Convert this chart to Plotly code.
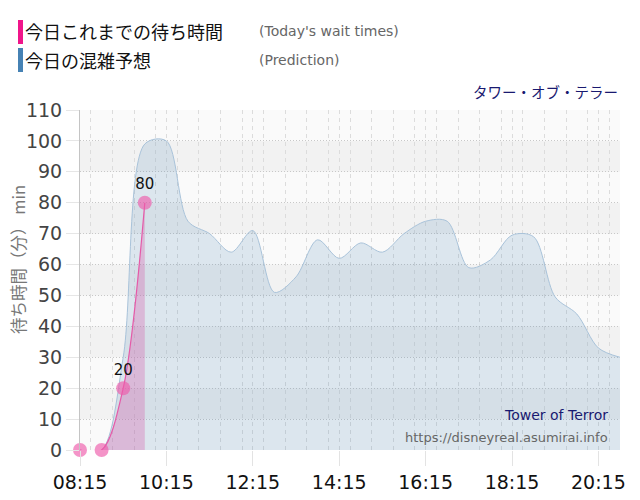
import plotly.graph_objects as go

# Today's recorded waits (pink) and the day's forecast (blue)
DAY = "2024-01-01 "
actual_times = ["08:15", "08:45", "09:15", "09:45"]
actual_waits = [0, 0, 20, 80]

forecast_times = ["08:15", "08:45", "09:15", "09:45", "10:15", "10:45", "11:15",
                  "11:45", "12:15", "12:45", "13:15", "13:45", "14:15", "14:45",
                  "15:15", "15:45", "16:15", "16:45", "17:15", "17:45", "18:15",
                  "18:45", "19:15", "19:45", "20:15", "20:45"]
forecast_waits = [0, 0, 30, 99, 100, 74, 70, 64, 71, 51, 56, 68, 62, 67,
                  64, 70, 74, 74, 59, 61.5, 69.5, 69, 49.5, 44, 33, 30]

# page puts the figure 8px in from the top-left corner
OFF = 8
W, H = 640, 500
L, T = 80 - OFF, 110 - OFF
R, B = W - (620 - OFF), H - (450 - OFF)
PW, PH = W - L - R, H - T - B


def px(x):
    return (x - OFF - L) / PW


def py(y):
    return (H - B - (y - OFF)) / PH


fig = go.Figure()

fig.add_trace(go.Scatter(
    x=[DAY + t for t in forecast_times], y=forecast_waits,
    mode="lines", line=dict(color="#a9c3da", width=1, shape="spline", smoothing=0.9),
    fill="tozeroy", fillcolor="rgba(70,130,180,0.17)",
    hoverinfo="skip", showlegend=False,
))

fig.add_trace(go.Scatter(
    x=[DAY + t for t in actual_times], y=actual_waits,
    mode="lines+markers+text",
    line=dict(color="#e55aa8", width=1.2, shape="spline", smoothing=0.9),
    marker=dict(size=14, color="rgba(238,90,170,0.65)"),
    fill="tozeroy", fillcolor="rgba(215,100,175,0.35)",
    text=[str(v) if v > 0 else "" for v in actual_waits],
    textposition="top center",
    textfont=dict(size=15, color="#111", family="DejaVu Sans"),
    cliponaxis=False, showlegend=False,
))

# alternating horizontal bands
shapes = []
for lo in range(10, 110, 20):
    shapes.append(dict(type="rect", xref="paper", yref="y", x0=0, x1=1, y0=lo, y1=lo + 10,
                       fillcolor="#f2f2f2", line_width=0, layer="below"))

# legend bars
shapes.append(dict(type="rect", xref="paper", yref="paper", x0=px(18), x1=px(23),
                   y0=py(44), y1=py(20), fillcolor="#f0158a", line_width=0))
shapes.append(dict(type="rect", xref="paper", yref="paper", x0=px(18), x1=px(23),
                   y0=py(72), y1=py(48), fillcolor="#4682b4", line_width=0))

jp = "Noto Sans CJK JP"
annotations = [
    dict(text="今日これまでの待ち時間", x=px(23), y=py(31), xanchor="left",
         font=dict(size=18, color="#111", family=jp)),
    dict(text="(Today's wait times)", x=px(257), y=py(31), xanchor="left",
         font=dict(size=14, color="#666", family="DejaVu Sans")),
    dict(text="今日の混雑予想", x=px(23), y=py(60), xanchor="left",
         font=dict(size=18, color="#111", family=jp)),
    dict(text="(Prediction)", x=px(257), y=py(60), xanchor="left",
         font=dict(size=14, color="#666", family="DejaVu Sans")),
    dict(text="タワー・オブ・テラー", x=px(620), y=py(92), xanchor="right",
         font=dict(size=14.5, color="#191970", family=jp)),
    dict(text="Tower of Terror", x=px(610), y=py(415), xanchor="right",
         font=dict(size=14, color="#191970", family="DejaVu Sans")),
    dict(text="https://disneyreal.asumirai.info", x=px(610), y=py(437), xanchor="right",
         font=dict(size=13, color="#666", family="DejaVu Sans")),
    dict(text="待ち時間（分） min", x=px(18), y=py(260), textangle=-90, xanchor="center",
         font=dict(size=16.5, color="#777", family=jp)),
]
for a in annotations:
    a.update(xref="paper", yref="paper", showarrow=False, yanchor="middle")

fig.update_layout(
    width=W, height=H, margin=dict(l=L, r=R, t=T, b=B),
    paper_bgcolor="white", plot_bgcolor="#fafafa",
    shapes=shapes, annotations=annotations,
    showlegend=False,
    font=dict(family="DejaVu Sans"),
)

fig.update_xaxes(
    range=[DAY + "08:15", DAY + "20:45"],
    tick0=DAY + "08:15", dtick=2 * 3600 * 1000, tickformat="%H:%M",
    tickfont=dict(size=19, color="#111"),
    ticks="outside", ticklen=15, tickcolor="#e3e3e3",
    showgrid=True, gridcolor="#dcdcdc", griddash="4px,4px", gridwidth=1,
    minor=dict(dtick=30 * 60 * 1000, showgrid=True, gridcolor="#dcdcdc",
               griddash="4px,4px"),
    showline=False, zeroline=False,
)

fig.update_yaxes(
    range=[0, 110], dtick=10,
    tickfont=dict(size=19, color="#444"),
    ticks="outside", ticklen=13, tickcolor="#e6e6e6",
    showgrid=True, gridcolor="#c8c8c8", griddash="1px,2px",
    showline=True, linecolor="#c4c4c4", linewidth=1,
    zeroline=False,
)

fig.write_html("out.html")
